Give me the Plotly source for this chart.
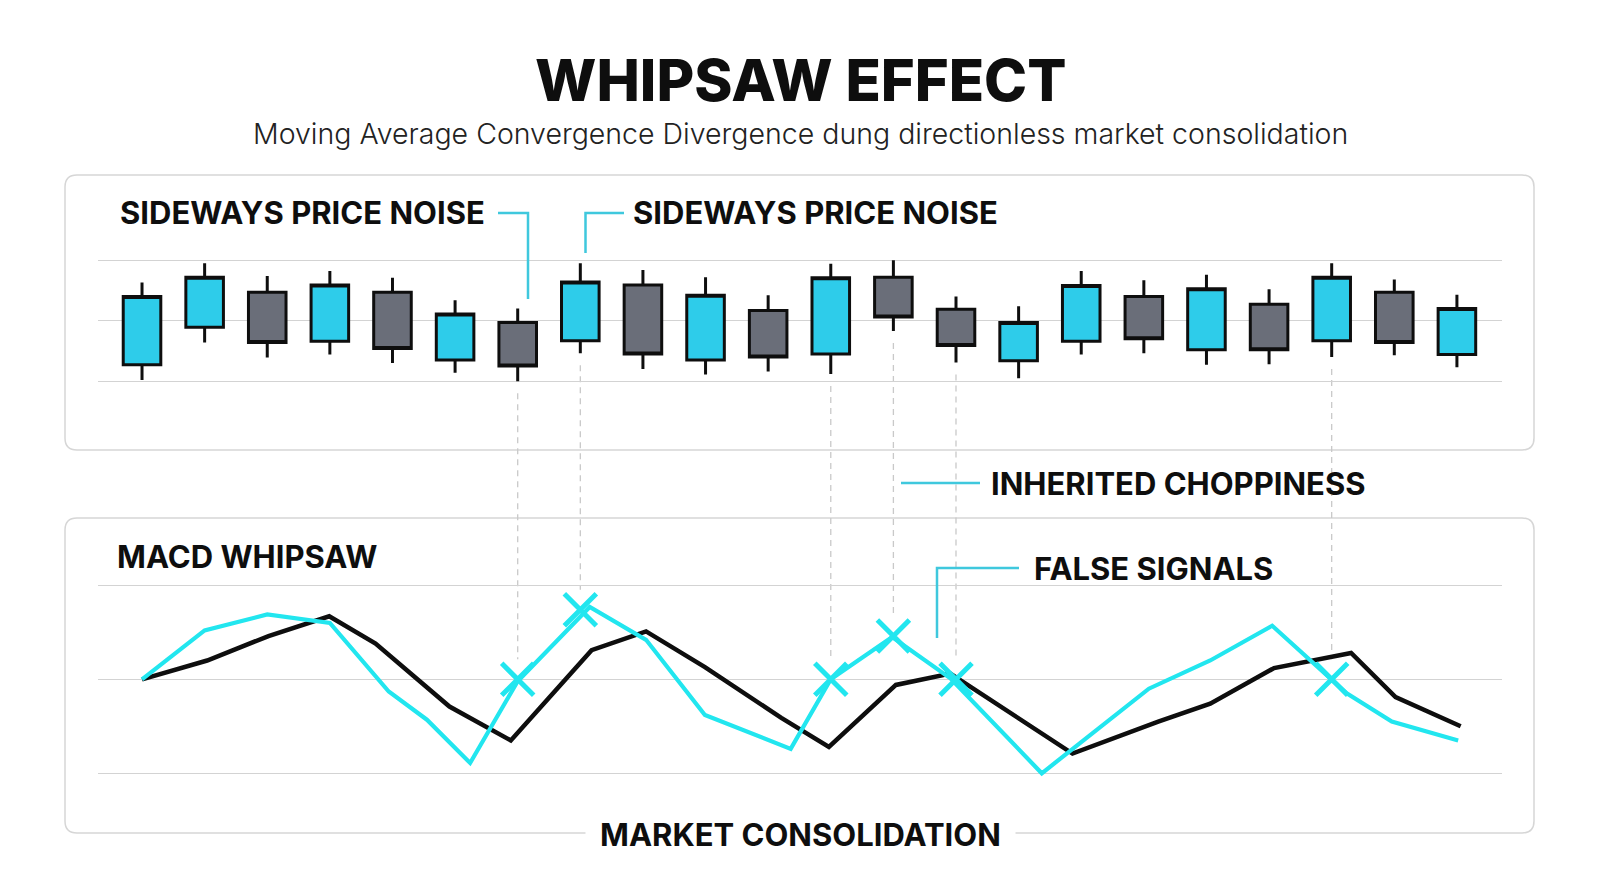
import plotly.graph_objects as go

# ---------------- data ----------------
candle_idx = list(range(22))
open_p  = [42.7, 48.9, 54.7, 46.6, 54.7, 43.5, 49.7, 46.7, 55.9, 43.5, 51.7,
           44.5, 57.2, 51.9, 43.4, 46.6, 54.0, 45.2, 52.7, 46.7, 54.7, 44.4]
high_p  = [56.3, 59.5, 57.4, 58.2, 57.1, 53.4, 52.0, 59.5, 58.4, 57.2, 54.2,
           59.4, 60.0, 54.0, 52.4, 58.2, 56.7, 57.6, 55.2, 59.5, 56.8, 54.3]
low_p   = [40.2, 46.4, 43.9, 44.4, 43.0, 41.4, 40.0, 44.6, 42.0, 41.1, 41.6,
           41.2, 48.3, 43.1, 40.5, 44.4, 44.6, 42.7, 42.8, 44.0, 44.3, 42.3]
close_p = [54.0, 57.2, 46.4, 55.9, 45.4, 51.1, 42.5, 56.4, 44.5, 54.2, 44.0,
           57.1, 50.6, 45.9, 49.7, 55.8, 47.0, 55.3, 45.2, 57.2, 46.4, 52.0]

# MACD (cyan) line: positions on the candle axis and values
macd_x = [0, 1, 2, 3, 3.94, 4.55, 5.24, 6.0, 7.15, 8.05, 8.99, 10.36, 11.0,
          11.98, 12.91, 14.37, 16.08, 17.06, 18.05, 19.0, 19.24, 19.96, 21.02]
macd_y = [0.00, 0.52, 0.69, 0.60, -0.13, -0.43, -0.89, -0.02, 0.77, 0.42, -0.38, -0.74, 0.00,
          0.45, 0.01, -1.00, -0.10, 0.20, 0.57, 0.00, -0.15, -0.45, -0.65]

# Signal (black) line
signal_x = [0, 1.04, 2.02, 2.99, 3.73, 4.91, 5.89, 7.18, 8.05, 8.99, 10.21,
            10.97, 12.04, 12.91, 14.86, 16.23, 17.06, 18.08, 19.31, 20.02, 21.06]
signal_y = [0.00, 0.20, 0.46, 0.67, 0.38, -0.29, -0.65, 0.31, 0.51, 0.13, -0.41,
            -0.72, -0.06, 0.06, -0.79, -0.45, -0.26, 0.12, 0.28, -0.19, -0.50]

# false signals (candle index and MACD value)
false_signal_idx = [6, 7, 11, 12, 13, 19]
false_signal_val = [0.00, 0.74, 0.00, 0.46, 0.00, 0.00]

price_grid = [40, 50, 60]
macd_grid = [-1, 0, 1]

# ---------------- geometry ----------------
# page body has an 8px margin; figure is sized so it fits the 1600x893 window
OFF = 8
W, H = 1600 - 2 * OFF, 893 - 2 * OFF
X_PX = (98.0, 1502.0)
X_RANGE = (-0.703, 21.72)
TOP_Y_PX = (236.0, 405.4)
TOP_RANGE = (36, 64)
BOT_Y_PX = (543.0, 815.6)
BOT_RANGE = (-1.45, 1.45)

CYAN_CANDLE = "#2ECCEA"
GRAY_CANDLE = "#6A6E79"
CYAN_LINE = "#22E6EF"
CYAN_CONN = "#3FC8DD"
INK = "#0E0E0E"
BORDER = "#D6D6D6"
FONT = "Inter"


def px(x):
    return (x - OFF) / W


def py(y):
    return 1 - (y - OFF) / H


def top_val_to_px(v):
    return TOP_Y_PX[0] + (TOP_RANGE[1] - v) / (TOP_RANGE[1] - TOP_RANGE[0]) * (TOP_Y_PX[1] - TOP_Y_PX[0])


def bot_val_to_px(v):
    return BOT_Y_PX[0] + (BOT_RANGE[1] - v) / (BOT_RANGE[1] - BOT_RANGE[0]) * (BOT_Y_PX[1] - BOT_Y_PX[0])


def rounded_rect(x0, y0, x1, y1, r):
    rx, ry = r / W, r / H
    X0, X1 = px(x0), px(x1)
    Y0, Y1 = py(y0), py(y1)  # Y0 top (larger), Y1 bottom
    return (f"M {X0+rx},{Y0} L {X1-rx},{Y0} Q {X1},{Y0} {X1},{Y0-ry} "
            f"L {X1},{Y1+ry} Q {X1},{Y1} {X1-rx},{Y1} L {X0+rx},{Y1} "
            f"Q {X0},{Y1} {X0},{Y1+ry} L {X0},{Y0-ry} Q {X0},{Y0} {X0+rx},{Y0} Z")


fig = go.Figure()

fig.add_trace(go.Candlestick(
    x=candle_idx, open=open_p, high=high_p, low=low_p, close=close_p,
    increasing=dict(fillcolor=CYAN_CANDLE, line=dict(color=INK, width=3)),
    decreasing=dict(fillcolor=GRAY_CANDLE, line=dict(color=INK, width=3)),
    whiskerwidth=0, xaxis="x", yaxis="y", hoverinfo="skip", showlegend=False,
))

fig.add_trace(go.Scatter(
    x=signal_x, y=signal_y, mode="lines",
    line=dict(color=INK, width=4.5), xaxis="x2", yaxis="y2",
    hoverinfo="skip", showlegend=False,
))
fig.add_trace(go.Scatter(
    x=macd_x, y=macd_y, mode="lines",
    line=dict(color=CYAN_LINE, width=4.2), xaxis="x2", yaxis="y2",
    hoverinfo="skip", showlegend=False,
))
fig.add_trace(go.Scatter(
    x=false_signal_idx, y=false_signal_val, mode="markers",
    marker=dict(symbol="x-thin", size=32, line=dict(color=CYAN_LINE, width=5), color=CYAN_LINE),
    xaxis="x2", yaxis="y2", hoverinfo="skip", showlegend=False,
))

shapes = []
# panel boxes
shapes.append(dict(type="path", path=rounded_rect(65, 175, 1534, 450, 12), xref="paper", yref="paper",
                   line=dict(color=BORDER, width=1.5), fillcolor="rgba(0,0,0,0)", layer="below"))
shapes.append(dict(type="path", path=rounded_rect(65, 518, 1534, 833, 12), xref="paper", yref="paper",
                   line=dict(color=BORDER, width=1.5), fillcolor="rgba(0,0,0,0)", layer="below"))

# dashed links candle -> false signal
for i, v in zip(false_signal_idx, false_signal_val):
    y0 = top_val_to_px(low_p[i]) + 12
    y1 = bot_val_to_px(v) - 20
    shapes.append(dict(type="line", xref="x", yref="paper", x0=i, x1=i, y0=py(y0), y1=py(y1),
                       line=dict(color="#C9C9C9", width=1.3, dash="6px,5px"), layer="below"))


def conn(points):
    d = "M " + " L ".join(f"{px(a)},{py(b)}" for a, b in points)
    return dict(type="path", path=d, xref="paper", yref="paper",
                line=dict(color=CYAN_CONN, width=2.5))


shapes.append(conn([(498, 213), (528, 213), (528, 299)]))
shapes.append(conn([(624, 213), (585.5, 213), (585.5, 253)]))
shapes.append(conn([(901, 483), (980, 483)]))
shapes.append(conn([(1019, 568), (937, 568), (937, 638)]))

annotations = [
    dict(text="WHIPSAW EFFECT", x=px(800), y=py(80), xref="paper", yref="paper", showarrow=False,
         xanchor="center", yanchor="middle", font=dict(family=FONT, size=58, color=INK, weight=800)),
    dict(text="Moving Average Convergence Divergence dung directionless market consolidation",
         x=px(800), y=py(133), xref="paper", yref="paper", showarrow=False,
         xanchor="center", yanchor="middle", font=dict(family=FONT, size=28.5, color="#222222", weight=300)),
]


def label(text, x, y, anchor="left", **kw):
    d = dict(text=text, x=px(x), y=py(y), xref="paper", yref="paper", showarrow=False,
             xanchor=anchor, yanchor="middle", font=dict(family=FONT, size=31, color=INK, weight=700))
    d.update(kw)
    return d


annotations += [
    label("SIDEWAYS PRICE NOISE", 118, 213),
    label("SIDEWAYS PRICE NOISE", 631, 213),
    label("INHERITED CHOPPINESS", 989, 483),
    label("MACD WHIPSAW", 115, 556),
    label("FALSE SIGNALS", 1032, 568),
    label("MARKET CONSOLIDATION", 800, 834, anchor="center", bgcolor="white", borderpad=14),
]

axis_common = dict(showticklabels=False, ticks="", zeroline=False, showline=False, fixedrange=True)

fig.update_layout(
    width=W, height=H, margin=dict(l=0, r=0, t=0, b=0),
    paper_bgcolor="white", plot_bgcolor="rgba(0,0,0,0)",
    boxgap=0.4, boxgroupgap=0, hovermode=False, showlegend=False,
    xaxis=dict(domain=[px(X_PX[0]), px(X_PX[1])], range=list(X_RANGE), showgrid=False,
               rangeslider=dict(visible=False), anchor="y", **axis_common),
    yaxis=dict(domain=[py(TOP_Y_PX[1]), py(TOP_Y_PX[0])], range=list(TOP_RANGE), tickvals=price_grid,
               showgrid=True, gridcolor="#D3D3D3", gridwidth=1.3, anchor="x", **axis_common),
    xaxis2=dict(domain=[px(X_PX[0]), px(X_PX[1])], range=list(X_RANGE), showgrid=False,
                anchor="y2", **axis_common),
    yaxis2=dict(domain=[py(BOT_Y_PX[1]), py(BOT_Y_PX[0])], range=list(BOT_RANGE), tickvals=macd_grid,
                showgrid=True, gridcolor="#D3D3D3", gridwidth=1.3, anchor="x2", **axis_common),
    shapes=shapes, annotations=annotations,
)

fig.write_html("out.html")
